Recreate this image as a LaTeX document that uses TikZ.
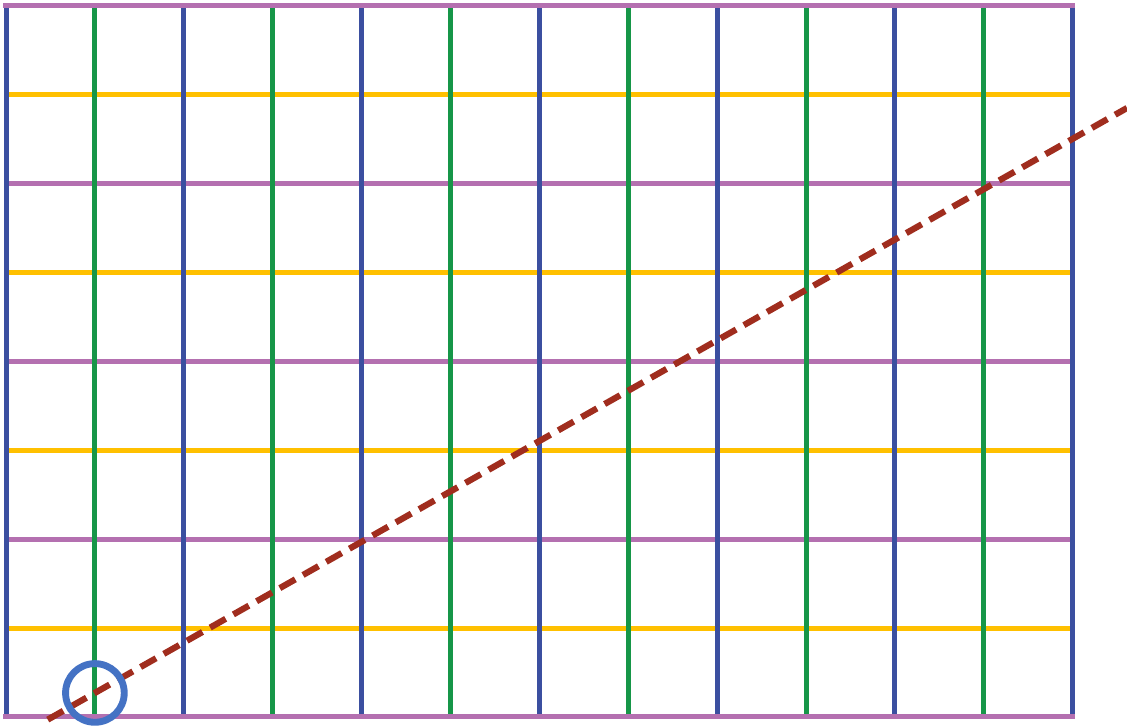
\documentclass[tikz,border=0pt]{standalone}
\usetikzlibrary{arrows.meta, positioning, calc}
\definecolor{GridBlue}{RGB}{59, 79, 160}
\definecolor{Leaf}{RGB}{22, 150, 72}
\definecolor{Amber}{RGB}{255, 192, 0}
\definecolor{Mauve}{RGB}{180, 112, 176}
\definecolor{Rust}{RGB}{160, 45, 30}
\definecolor{MarkBlue}{RGB}{68, 114, 196}

\begin{document}
\begin{tikzpicture}[
    x=1cm, y=1cm,
    gridline/.style={line width=1.6pt}
]
\useasboundingbox (-0.0675,-0.1125) rectangle (12.61,8.065);
% Yellow rows
\foreach \y in {1,3,5,7}
    \draw[gridline, Amber] (0.03,\y) -- (11.97,\y);
% Inner purple rows
\foreach \y in {2,4,6}
    \draw[gridline, Mauve] (0,\y) -- (12,\y);
% Green columns
\foreach \x in {1,3,...,11}
    \draw[gridline, Leaf] (\x,0) -- (\x,8.03);
% Blue columns
\foreach \x in {0,2,...,12}
    \draw[gridline, GridBlue] (\x,0) -- (\x,8);
% Outer purple rows
\draw[gridline, Mauve] (-0.03,0) -- (12.03,0);
\draw[gridline, Mauve] (-0.03,8) -- (12.03,8);
% Diagonal
\draw[Rust, line width=2pt, dash pattern=on 0.2cm off 0.1cm] (0.47,-0.03) -- (12.61,6.85);
% Marker
\draw[MarkBlue, line width=2.2pt] (1,0.27) circle (0.33);
\end{tikzpicture}
\end{document}
